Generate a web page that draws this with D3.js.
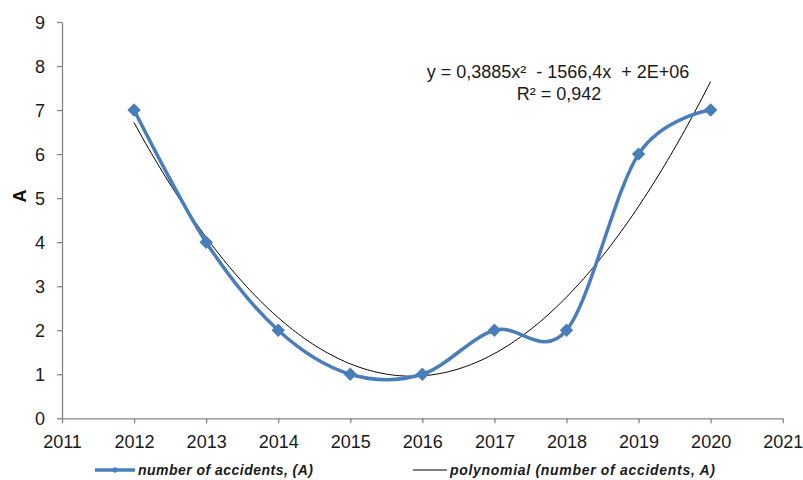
<!DOCTYPE html>
<html><head><meta charset="utf-8">
<script src="https://cdn.jsdelivr.net/npm/d3@7"></script>
<style>html,body{margin:0;padding:0;background:#fff;}svg{display:block;font-family:"Liberation Sans",Arial,sans-serif;}</style>
</head><body>
<script>
const years = [2012, 2013, 2014, 2015, 2016, 2017, 2018, 2019, 2020];
const accidents = [7, 4, 2, 1, 1, 2, 2, 6, 7];
const xTicks = [2011, 2012, 2013, 2014, 2015, 2016, 2017, 2018, 2019, 2020, 2021];
const yTicks = [0, 1, 2, 3, 4, 5, 6, 7, 8, 9];
const seriesName = "number of accidents, (A)";
const trendName = "polynomial (number of accidents, A)";
const equationText = "y = 0,3885x²  - 1566,4x  + 2E+06";
const r2Text = "R² = 0,942";
const yLabel = "A";

const W = 803, H = 480;
const svg = d3.select("body").append("svg").attr("width", W).attr("height", H);
const x = d3.scaleLinear().domain([2011, 2021]).range([62, 782.7]);
const y = d3.scaleLinear().domain([0, 9]).range([418.3, 22]);
const blue = "#4a7ebb";
const axisColor = "#868686";
const textColor = "#1a1a1a";

// axes
const gx = svg.append("g").attr("transform", `translate(0,${y(0)})`)
  .call(d3.axisBottom(x).tickValues(xTicks).tickFormat(d3.format("d")).tickSize(5).tickSizeOuter(0));
const gy = svg.append("g").attr("transform", `translate(${x(2011)},0)`)
  .call(d3.axisLeft(y).tickValues(yTicks).tickSize(5).tickSizeOuter(0));
[gx, gy].forEach(g => {
  g.select(".domain").attr("stroke", axisColor).attr("stroke-width", 1.3);
  g.selectAll(".tick line").attr("stroke", axisColor).attr("stroke-width", 1.3);
  g.selectAll(".tick text").attr("fill", textColor).attr("font-size", 18).attr("font-family", "Liberation Sans, Arial, sans-serif");
});
gx.selectAll(".tick text").attr("y", 29.7).attr("dy", 0);
gy.selectAll(".tick text").attr("x", -17).attr("dy", "0.36em");

svg.append("text").attr("transform", `translate(26,196) rotate(-90)`)
  .attr("text-anchor", "middle").attr("font-weight", "bold").attr("font-size", 18).attr("fill", "#111")
  .text(yLabel);

// quadratic least-squares trendline computed from the data
const xm = d3.mean(years);
const n = years.length;
const t = years.map(v => v - xm);
const S2 = d3.sum(t, v => v*v), S4 = d3.sum(t, v => v**4);
const Sy = d3.sum(accidents), Sty = d3.sum(t, (v,i) => v*accidents[i]), St2y = d3.sum(t, (v,i) => v*v*accidents[i]);
const b = Sty / S2;
const c = (St2y - S2*Sy/n) / (S4 - S2*S2/n);
const a = (Sy - c*S2) / n;
const trendPts = d3.range(0, 201).map(i => {
  const xv = years[0] + (years[n-1]-years[0]) * i / 200;
  const tv = xv - xm;
  return [xv, a + b*tv + c*tv*tv];
});
svg.append("path").attr("d", d3.line().x(d => x(d[0])).y(d => y(d[1]))(trendPts))
  .attr("fill", "none").attr("stroke", "#000").attr("stroke-width", 1);

// data line
const pts = years.map((v,i) => [v, accidents[i]]);
svg.append("path").attr("d", d3.line().x(d => x(d[0])).y(d => y(d[1])).curve(d3.curveCardinal.tension(0))(pts))
  .attr("fill", "none").attr("stroke", blue).attr("stroke-width", 3.5).attr("stroke-linejoin", "round");
svg.append("g").selectAll("path").data(pts).join("path")
  .attr("d", d3.symbol().type(d3.symbolSquare).size(90)())
  .attr("transform", d => `translate(${x(d[0])},${y(d[1])}) rotate(45)`)
  .attr("fill", blue);

// equation
svg.append("text").attr("x", 558).attr("y", 78).attr("text-anchor", "middle").attr("font-size", 18).attr("fill", textColor)
  .style("white-space", "pre").attr("xml:space", "preserve").text(equationText);
svg.append("text").attr("x", 559).attr("y", 100).attr("text-anchor", "middle").attr("font-size", 18).attr("fill", textColor).text(r2Text);

// legend
const ly = 470;
const lg = svg.append("g");
lg.append("line").attr("x1", 95).attr("x2", 135).attr("y1", ly).attr("y2", ly).attr("stroke", blue).attr("stroke-width", 3.5);
lg.append("path").attr("d", d3.symbol().type(d3.symbolSquare).size(22)()).attr("transform", `translate(115,${ly}) rotate(45)`).attr("fill", blue);
lg.append("text").attr("x", 138).attr("y", ly + 5).attr("font-size", 14).attr("font-weight", "bold").attr("font-style", "italic").attr("fill", textColor).attr("textLength", 175).text(seriesName);
lg.append("line").attr("x1", 413).attr("x2", 447).attr("y1", ly).attr("y2", ly).attr("stroke", "#000").attr("stroke-width", 1);
lg.append("text").attr("x", 450).attr("y", ly + 5).attr("font-size", 14).attr("font-weight", "bold").attr("font-style", "italic").attr("fill", textColor).attr("textLength", 265).text(trendName);
</script>
</body></html>
